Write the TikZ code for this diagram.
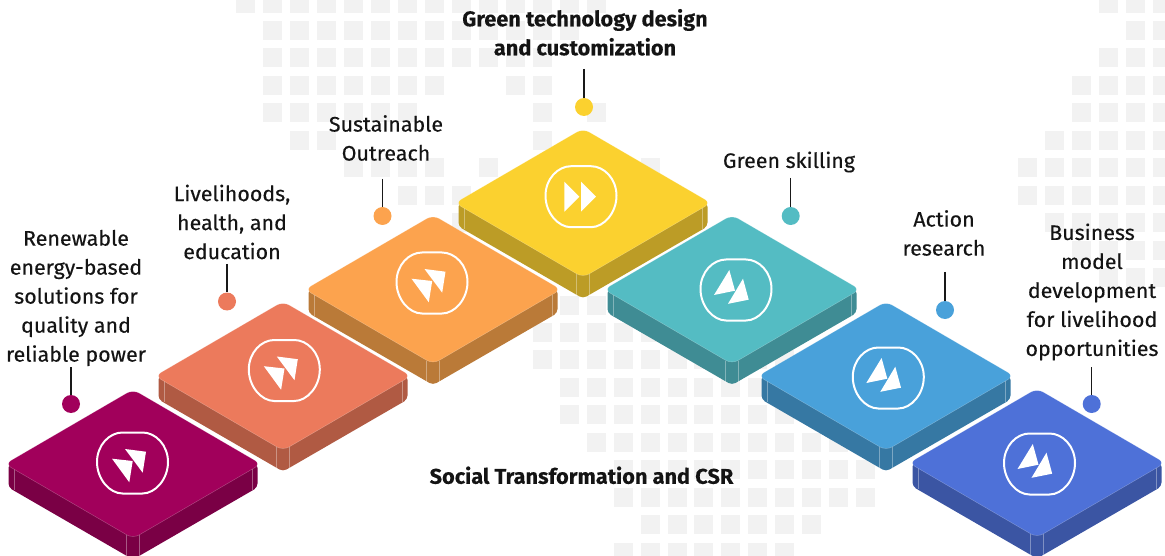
\documentclass[tikz,border=0pt]{standalone}
\usepackage{fontspec}
\setmainfont{Fira Sans}[FakeStretch=1.02,FakeBold=0.35,BoldFeatures={FakeBold=0.2}]
\tikzset{
  gridcell/.style={fill=cellgray,draw=none},
  tileside/.style={rounded corners=4pt,draw=none},
  tiletop/.style={rounded corners=7pt,draw=none},
  edgeline/.style={draw=white,draw opacity=.35,line width=.5pt},
  badge/.style={draw=white,line width=2pt},
  arrowtri/.style={fill=white,draw=none},
  dot/.style={circle,inner sep=0pt,minimum size=18pt,draw=none},
  leader/.style={draw=black!90,line width=1.5pt},
  lab/.style={align=center,inner sep=0pt,font=\fontsize{21}{29}\selectfont,text=black!92},
  labb/.style={lab,font=\fontsize{21.3}{29}\selectfont\bfseries}
}
\definecolor{cellgray}{HTML}{F2F2F2}
\definecolor{ca}{HTML}{A1005B}\definecolor{sa}{HTML}{7A0045}
\definecolor{cb}{HTML}{EC7A5C}\definecolor{sb}{HTML}{B05A43}
\definecolor{cc}{HTML}{FCA34E}\definecolor{sc}{HTML}{BA7A38}
\definecolor{cd}{HTML}{FBD12F}\definecolor{sd}{HTML}{BC9C26}
\definecolor{ce}{HTML}{54BCC3}\definecolor{se}{HTML}{3F8C94}
\definecolor{cf}{HTML}{49A1DA}\definecolor{sf}{HTML}{3678A3}
\definecolor{cg}{HTML}{4E71D8}\definecolor{sg}{HTML}{3B55A3}
% tile: centre x,y ; top colour ; side colour ; badge centre x,y
\newcommand{\tileshape}[6]{%
  \begin{scope}[shift={(#1,#2)}]
    \path[tileside,fill=#4] (-124.5,0) -- (-124.5,23.5) -- (0,95.5) -- (124.5,23.5) -- (124.5,0) -- (0,-60) -- cycle;
    \draw[edgeline] (-119,5) -- (-119,26);
    \draw[edgeline] (119,5) -- (119,26);
    \draw[edgeline] (-6.5,71) -- (-6.5,93);
    \draw[edgeline] (6.5,71) -- (6.5,93);
    \path[tiletop,fill=#3,draw=white,draw opacity=.3,line width=.4pt] (-128,0) -- (0,-74.5) -- (128,0) -- (0,74.5) -- cycle;
  \end{scope}
  \begin{scope}[shift={(#5,#6)}]
    \draw[badge] (-10,-30.5) .. controls (-23,-30.5) and (-35.5,-18) .. (-35.5,-1)
      .. controls (-35.5,16) and (-23,30.5) .. (-10,30.5) -- (10,30.5)
      .. controls (23,30.5) and (35.5,16) .. (35.5,-1)
      .. controls (35.5,-18) and (23,-30.5) .. (10,-30.5) -- cycle;
  \end{scope}
}
\newcommand{\triright}[2]{% pointing down-left
  \fill[arrowtri] (#1-7.5,#2-14) -- (#1+13.5,#2-11.3) -- (#1+10.2,#2+9.7) -- cycle;
  \fill[arrowtri] (#1-20.5,#2-4.3) -- (#1+0.2,#2-2) -- (#1-3.2,#2+19.3) -- cycle;
}
\newcommand{\trileft}[2]{% pointing up
  \fill[arrowtri] (#1-6.7,#2-20) -- (#1-1,#2+0.7) -- (#1-22,#2+5) -- cycle;
  \fill[arrowtri] (#1+7,#2-11.3) -- (#1+12.7,#2+9.7) -- (#1-8,#2+13.8) -- cycle;
}
\begin{document}
\begin{tikzpicture}[x=1pt,y=-1pt]
\useasboundingbox (0,0) rectangle (1165,556);
% background mosaic
\foreach \k/\cs in {
 0/{0,1,2,3,4,5,6,7,8,9,10,11,12,13,32,33,34},
 1/{1,2,3,4,5,6,7,8,9,10,11,12,33,34},
 2/{1,2,3,4,5,6,7,8,9,10,11,32,33,34},
 3/{1,2,3,4,5,6,7,10,11,31,32,33,34},
 4/{1,2,3,4,5,6,11,13,31,32,33,34},
 5/{2,3,11,30,31,32,33,34},
 6/{4,5,6,7,9,11,15,29,30,31,32,33,34},
 7/{6,7,8,29,30,31,32,33,34},
 8/{8,30,31,32,33,34},
 9/{31,32,33,34},
 10/{32,33,34},
 11/{12,13},
 12/{11,12,13,14,15,16},
 13/{11,12,13,14,15,16,17,18,19,20},
 14/{12,13,14,15,16,17,18,19,20},
 15/{12,13,14,15,16,17,18,19,20},
 16/{13,14,15,16,17,18,19,20,21,22},
 17/{14,15,16,17,18,19,20,21,22,23},
 18/{14,15,16,17,18,19,20,21,22,23},
 19/{15,16,17,18,19,20,21},
 20/{14,15,16,17,18,19,20}}{
  \foreach \c in \cs {
    \fill[gridcell] ({236+26.97*\c},{-6.4+27.45*\k}) rectangle +(19,19);
  }
}
% tiles, back to front
\tileshape{583}{203}{cd}{sd}{581}{196.7}
\tileshape{433}{289.5}{cc}{sc}{432}{283}
\tileshape{732}{289.5}{ce}{se}{736}{290}
\tileshape{283}{376}{cb}{sb}{284.3}{370.5}
\tileshape{886}{376}{cf}{sf}{888.3}{378}
\tileshape{133}{464}{ca}{sa}{132.5}{463}
\tileshape{1037}{463}{cg}{sg}{1039.5}{464}
% icons
\triright{132.5}{463}
\triright{284.3}{370.5}
\triright{432}{283}
\fill[arrowtri] (564.3,181.7) -- (579.3,196.7) -- (564.3,211.7) -- cycle;
\fill[arrowtri] (581,181.7) -- (596,196.7) -- (581,211.7) -- cycle;
\trileft{736}{290}
\trileft{888.3}{378}
\trileft{1039.5}{464}
% dots
\node[dot,fill=ca] (d1) at (71,404) {};
\node[dot,fill=cb] (d2) at (227,301.5) {};
\node[dot,fill=cc] (d3) at (382.5,216) {};
\node[dot,fill=cd] (d4) at (584,107) {};
\node[dot,fill=ce] (d5) at (790.7,216) {};
\node[dot,fill=cf] (d6) at (945,310) {};
\node[dot,fill=cg] (d7) at (1091.7,404) {};
% leader starts
\coordinate (s1) at (71,367);
\coordinate (s2) at (227,264);
\coordinate (s3) at (382.5,179);
\coordinate (s4) at (584,69);
\coordinate (s5) at (790.7,178);
\coordinate (s6) at (945,272);
\coordinate (s7) at (1091.7,367);
\foreach \i in {1,...,7} \draw[leader] (s\i) -- (d\i);
% labels
\node[lab] (t1) at (76,298) {Renewable\\energy-based\\solutions for\\quality and\\reliable power};
\node[lab] (t2) at (232,222) {Livelihoods,\\health, and\\education};
\node[lab] (t3) at (386,138) {Sustainable\\Outreach};
\node[labb] (t4) at (585,32.3) {Green technology design\\and customization};
\node[lab] (t5) at (789,162) {Green skilling};
\node[lab] (t6) at (944,233) {Action\\research};
\node[lab] (t7) at (1092,292) {Business\\model\\development\\for livelihood\\opportunities};
\node[labb] (t8) at (581.5,475.3) {Social Transformation and CSR};
\end{tikzpicture}
\end{document}
